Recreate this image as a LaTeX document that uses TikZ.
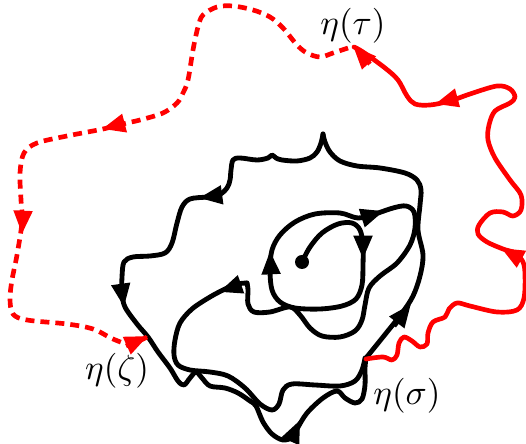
\documentclass[tikz,border=0pt]{standalone}
\usetikzlibrary{arrows.meta}
\begin{document}
\begin{tikzpicture}[x=0.3pt,y=-0.3pt,
  blk/.style={line width=1.45pt,line cap=round,line join=round},
  redsolid/.style={red,line width=1.4pt,line cap=round,line join=round},
  reddash/.style={red,line width=1.4pt,dash pattern=on 2.7pt off 1.8pt},
  tipblk/.style={line width=1.45pt,-{Triangle[length=7pt,width=5.4pt]}},
  tipred/.style={red,line width=1.4pt,-{Triangle[length=7pt,width=5.4pt]}},
  lbl/.style={inner sep=0pt,scale=1.05}]
\useasboundingbox (0,0) rectangle (526,444);

% ---------- black curve: from the dot to eta(sigma)
\draw[blk] plot[smooth,tension=0.55] coordinates {
 (302,262) (310,247) (322,233) (338,224) (352,223) (360,230) (363,245)
 (363,265) (362,285) (356,299) (342,306) (320,309) (295,308) (280,302)
 (272,290) (270,270) (272,250) (280,235) (295,222) (315,214) (340,213)
 (358,218) (375,214) (393,208) (406,206) (414,212) (415,228) (410,245)
 (397,263) (380,276) (369,288) (365,305) (362,320) (355,331) (340,337)
 (322,336) (310,328) (300,315) (290,307) (270,312) (254,312) (248,304)
 (248,290) (247,283)};
\draw[blk] plot[smooth,tension=0.55] coordinates {
 (247,283) (237,284) (227,288) (210,297) (192,309) (180,323) (175,340)
 (174,355) (178,365) (190,370) (210,372) (228,376) (245,388) (260,404)
 (272,410) (279,404) (283,390) (292,384) (315,385) (340,386) (355,381)
 (362,370) (365,358)};

% ---------- black outer loop from eta(sigma) back to eta(sigma)
\draw[blk] plot[smooth,tension=0.55] coordinates {
 (366,358) (383,337) (402,313) (413,296) (420,276) (423,255) (418,230)
 (420,205) (421,190) (417,180) (405,173) (380,168) (357,166) (340,161)
 (330,152) (325,142) (323,134)};
\draw[blk] plot[smooth,tension=0.55] coordinates {
 (323,134) (321,143) (317,152) (310,158) (297,161) (282,160) (276,158)
 (272,155) (268,158) (257,160) (240,158) (233,160) (231,170) (230,180)
 (227,188) (219,195) (207,197) (190,199) (182,207) (177,223) (172,243)
 (165,253) (150,256) (133,257) (124,262) (122,277) (122,293) (125,307)
 (137,324) (148,337) (158,352) (170,368) (178,381) (184,385) (190,378)
 (196,372) (202,378) (210,386) (225,388) (238,393) (250,401) (256,406)
 (263,422) (272,434) (283,440) (293,437) (297,429) (307,413) (323,398)
 (337,391) (345,398) (355,403) (362,399) (365,385) (365,368) (366,358)};

\fill (302,262) circle (2.1pt);

% ---------- red solid: eta(sigma) to eta(tau)
\draw[redsolid] plot[smooth,tension=0.55] coordinates {
 (366,359) (383,357) (392,360) (397,355) (399,343) (404,337) (412,341)
 (420,347) (427,344) (428,333) (433,322) (445,317) (449,309) (457,303)
 (470,306) (497,312) (517,310) (524,298) (525,275) (523,262) (515,253)
 (503,249) (487,242) (478,234) (479,225) (490,213) (503,212) (513,216)
 (521,210) (521,195) (510,180) (495,158) (488,140) (489,125) (495,111)
 (510,103) (515,97) (510,89) (497,86) (470,94) (450,101) (430,105)
 (415,104) (407,96) (398,80) (385,68) (363,52) (354,47)};

% ---------- red dashed: eta(tau) to eta(zeta)
\draw[reddash] plot[smooth,tension=0.55] coordinates {
 (348,48) (333,53) (320,57) (307,53) (297,45) (283,28) (270,17) (253,10)
 (233,6) (217,7) (203,15) (198,27) (193,50) (188,80) (183,93) (177,103)
 (163,113) (140,120) (127,123) (103,129) (67,136) (37,143) (24,153)
 (20,173) (21,200) (22,222) (17,255) (12,280) (10,299) (13,314) (27,320)
 (67,324) (93,329) (113,339) (130,344) (147,337)};

% ---------- arrow heads
\draw[tipblk] (363,238) -- (363,259);
\draw[tipblk] (271,272) -- (270,251);
\draw[tipblk] (362,218) -- (384,211);
\draw[tipblk] (239,285) -- (219,292);
\draw[tipblk] (221,195) -- (199,198);
\draw[tipblk] (121,286) -- (124,307);
\draw[tipblk] (291,440) -- (300,420);
\draw[tipblk] (394,326) -- (411,304);

\draw[tipred] (370,64) -- (353,46);
\draw[tipred] (457,98) -- (435,104);
\draw[tipred] (521,259) -- (501,248);
\draw[tipred] (125,123) -- (102,129);
\draw[tipred] (23,212) -- (22,234);
\draw[tipred] (126,346) -- (148,336);

% ---------- labels
\node[lbl] (tau) at (353,26) {$\eta(\tau)$};
\node[lbl] (zeta) at (117,371) {$\eta(\zeta)$};
\node[lbl] (sigma) at (407,396) {$\eta(\sigma)$};
\end{tikzpicture}
\end{document}
